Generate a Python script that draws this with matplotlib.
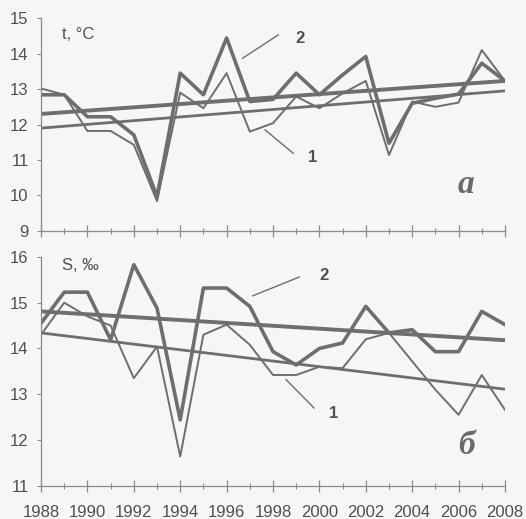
import matplotlib
matplotlib.use("Agg")
import matplotlib.pyplot as plt
from matplotlib.ticker import MultipleLocator

years = list(range(1988, 2009))

# temperature, t °C  (1 - thin, 2 - thick)
t1 = [13.02, 12.84, 11.82, 11.82, 11.43, 9.84, 12.9, 12.46, 13.45, 11.8, 12.04,
      12.79, 12.46, 12.88, 13.23, 11.14, 12.65, 12.5, 12.62, 14.1, 13.23]
t2 = [12.84, 12.84, 12.22, 12.22, 11.71, 9.97, 13.45, 12.84, 14.44, 12.65, 12.71,
      13.45, 12.84, 13.4, 13.92, 11.47, 12.6, 12.74, 12.86, 13.73, 13.23]
t1_trend = [11.9, 12.95]
t2_trend = [12.3, 13.23]

# salinity, S ‰
s1 = [14.3, 15.0, 14.7, 14.5, 13.35, 14.04, 11.64, 14.3, 14.52, 14.08, 13.42,
      13.42, 13.6, 13.57, 14.2, 14.34, 13.72, 13.1, 12.55, 13.42, 12.66]
s2 = [14.55, 15.23, 15.23, 14.19, 15.83, 14.88, 12.44, 15.32, 15.32, 14.92, 13.93,
      13.64, 14.0, 14.12, 14.92, 14.34, 14.41, 13.93, 13.93, 14.81, 14.52]
s1_trend = [14.34, 13.11]
s2_trend = [14.81, 14.18]
trend_years = [1988, 2008]

line_c = '#6e6e6e'
text_c = '#505050'
bg = '#f6f6f4'

plt.rcParams['font.family'] = ['Liberation Sans', 'DejaVu Sans']

fig = plt.figure(figsize=(5.26, 5.19), dpi=100, facecolor=bg)
ax1 = fig.add_axes([0.078, 0.555, 0.882, 0.410])
ax2 = fig.add_axes([0.078, 0.064, 0.882, 0.441])


def style(ax, ymin, ymax, labels):
    ax.set_facecolor(bg)
    ax.set_xlim(1988, 2008)
    ax.set_ylim(ymin, ymax)
    for s in ['top', 'right']:
        ax.spines[s].set_visible(False)
    for s in ['left', 'bottom']:
        ax.spines[s].set_color('#8a8a8a')
        ax.spines[s].set_linewidth(0.9)
    ax.xaxis.set_major_locator(MultipleLocator(2))
    ax.xaxis.set_minor_locator(MultipleLocator(1))
    ax.yaxis.set_major_locator(MultipleLocator(1))
    ax.tick_params(axis='x', which='major', direction='inout', length=8,
                   width=0.9, color='#8a8a8a', labelsize=12, labelcolor=text_c, pad=10)
    ax.tick_params(axis='x', which='minor', direction='inout', length=4,
                   width=0.8, color='#8a8a8a')
    ax.tick_params(axis='y', direction='out', length=3, width=0.8, color='#8a8a8a',
                   labelsize=12, labelcolor=text_c, pad=6)
    if not labels:
        ax.tick_params(axis='x', labelbottom=False)


style(ax1, 9, 15, False)
style(ax2, 11, 16, True)

# top panel
ax1.plot(years, t1, color=line_c, lw=1.4)
ax1.plot(years, t2, color=line_c, lw=2.6)
ax1.plot(trend_years, t1_trend, color=line_c, lw=2.0)
ax1.plot(trend_years, t2_trend, color=line_c, lw=2.8)
ax1.text(1988.9, 14.55, 't, °C', fontsize=12, color=text_c, va='center')
ax1.plot([1996.69, 1998.23], [13.87, 14.53], color=line_c, lw=1.0)
ax1.text(1998.95, 14.42, '2', fontsize=12, fontweight='bold', color=text_c, va='center')
ax1.plot([1997.66, 1998.87], [11.85, 11.19], color=line_c, lw=1.0)
ax1.text(1999.5, 11.06, '1', fontsize=12, fontweight='bold', color=text_c, va='center')
ax1.text(2006.3, 10.32, 'а', fontsize=24, fontstyle='italic', fontweight='bold',
         family='Liberation Serif', color='#6a6a6a', ha='center', va='center')

# bottom panel
ax2.plot(years, s1, color=line_c, lw=1.4)
ax2.plot(years, s2, color=line_c, lw=2.6)
ax2.plot(trend_years, s1_trend, color=line_c, lw=2.0)
ax2.plot(trend_years, s2_trend, color=line_c, lw=2.8)
ax2.text(1988.9, 15.82, 'S, ‰', fontsize=12, color=text_c, va='center')
ax2.plot([1997.13, 1999.13], [15.15, 15.56], color=line_c, lw=1.0)
ax2.text(2000.0, 15.59, '2', fontsize=12, fontweight='bold', color=text_c, va='center')
ax2.plot([1998.56, 1999.77], [13.32, 12.7], color=line_c, lw=1.0)
ax2.text(2000.4, 12.57, '1', fontsize=12, fontweight='bold', color=text_c, va='center')
ax2.text(2006.36, 11.89, 'б', fontsize=24, fontstyle='italic', fontweight='bold',
         family='Liberation Serif', color='#6a6a6a', ha='center', va='center')

fig.savefig('out.png', dpi=100, facecolor=bg)
